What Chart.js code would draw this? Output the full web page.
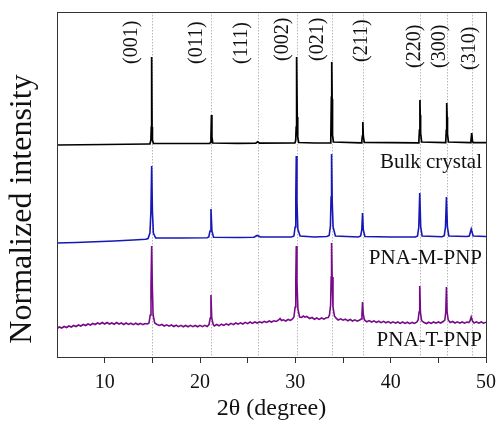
<!DOCTYPE html>
<html>
<head>
<meta charset="utf-8">
<script src="https://cdn.jsdelivr.net/npm/chart.js@4"></script>
<style>
  html, body { margin: 0; padding: 0; background: #fff; }
  #wrap { width: 499px; height: 421px; }
</style>
</head>
<body>
<div id="wrap"><canvas id="xrd"></canvas></div>
<script>
// picos e nomes das reflexoes
const peakNames = ["(001)", "(011)", "(111)", "(002)", "(021)", "(211)", "(220)", "(300)", "(310)"];
const peakPos = [14.93, 21.2, 26.05, 30.15, 33.82, 37.08, 43.07, 45.88, 48.5];
const seriesNames = ["Bulk crystal", "PNA-M-PNP", "PNA-T-PNP"];

// curvas: [2theta, intensidade deslocada]
const bulkTrace = [
  [5, 2.12], [10, 2.125], [14.6, 2.13],
  [14.75, 2.13], [14.85, 2.17], [14.89, 2.3], [14.93, 3.0], [14.97, 2.3], [15.01, 2.17], [15.11, 2.135],
  [18, 2.135], [21.02, 2.135],
  [21.08, 2.145], [21.15, 2.2], [21.2, 2.42], [21.25, 2.2], [21.34, 2.14],
  [24, 2.137], [25.85, 2.138], [26.05, 2.152], [26.25, 2.138],
  [29.95, 2.14],
  [30.04, 2.165], [30.09, 2.3], [30.12, 2.58], [30.15, 3.0], [30.2, 2.4], [30.25, 2.2], [30.35, 2.145],
  [32, 2.14], [33.65, 2.142],
  [33.72, 2.17], [33.78, 2.6], [33.82, 2.95], [33.86, 2.58], [33.9, 2.22], [34.0, 2.15],
  [36.9, 2.142],
  [36.97, 2.155], [37.03, 2.21], [37.08, 2.35], [37.13, 2.21], [37.23, 2.147],
  [42.9, 2.142],
  [42.96, 2.16], [43.02, 2.27], [43.07, 2.57], [43.1, 2.42], [43.14, 2.24], [43.25, 2.15],
  [45.72, 2.143],
  [45.78, 2.16], [45.84, 2.27], [45.88, 2.54], [45.92, 2.4], [45.96, 2.23], [46.06, 2.15],
  [48.35, 2.143],
  [48.42, 2.16], [48.5, 2.24], [48.58, 2.16], [48.66, 2.143],
  [50, 2.143]
];

const mTrace = [
  [5, 1.14], [7, 1.145], [9, 1.152], [11, 1.16], [13, 1.17], [14.3, 1.178],
  [14.55, 1.185], [14.75, 1.24], [14.85, 1.45], [14.93, 1.91], [15.01, 1.45], [15.11, 1.24], [15.35, 1.19],
  [18, 1.19], [20.75, 1.192],
  [20.92, 1.2], [21.05, 1.26], [21.15, 1.48], [21.25, 1.26], [21.42, 1.197],
  [24, 1.195], [25.65, 1.198], [26.0, 1.215], [26.35, 1.2],
  [29.6, 1.2],
  [29.85, 1.21], [29.98, 1.3], [30.05, 1.6], [30.1, 2.01], [30.17, 1.55], [30.26, 1.28], [30.5, 1.21],
  [32, 1.2], [33.3, 1.205],
  [33.55, 1.215], [33.68, 1.31], [33.75, 1.6], [33.8, 2.03], [33.87, 1.55], [33.96, 1.3], [34.2, 1.21],
  [36.6, 1.2],
  [36.85, 1.21], [36.97, 1.27], [37.05, 1.44], [37.13, 1.27], [37.3, 1.205],
  [40, 1.2], [42.6, 1.2],
  [42.82, 1.21], [42.95, 1.3], [43.05, 1.64], [43.15, 1.3], [43.3, 1.21],
  [45.4, 1.203],
  [45.62, 1.212], [45.75, 1.3], [45.85, 1.6], [45.95, 1.3], [46.1, 1.21],
  [48.0, 1.205],
  [48.25, 1.21], [48.45, 1.28], [48.65, 1.21],
  [50, 1.205]
];

const tTrace = [
  [5, 0.285], [5.25, 0.3], [5.5, 0.29], [5.75, 0.305], [6, 0.295], [6.25, 0.31], [6.5, 0.3], [6.75, 0.315],
  [7, 0.305], [7.25, 0.32], [7.5, 0.31], [7.75, 0.325], [8, 0.315], [8.25, 0.33], [8.5, 0.32], [8.75, 0.335],
  [9, 0.325], [9.25, 0.34], [9.5, 0.33], [9.75, 0.345], [10, 0.33], [10.25, 0.345], [10.5, 0.33], [10.75, 0.34],
  [11, 0.328], [11.25, 0.345], [11.5, 0.33], [11.75, 0.34], [12, 0.325], [12.25, 0.34], [12.5, 0.326], [12.75, 0.338],
  [13, 0.324], [13.25, 0.338], [13.5, 0.325], [13.75, 0.336], [14, 0.324], [14.25, 0.335], [14.5, 0.33],
  [14.65, 0.34], [14.78, 0.42], [14.86, 0.7], [14.93, 1.11], [15.0, 0.7], [15.08, 0.42], [15.25, 0.34],
  [15.5, 0.325], [15.75, 0.315], [16, 0.325], [16.25, 0.31], [16.5, 0.322], [16.75, 0.308], [17, 0.32], [17.25, 0.305],
  [17.5, 0.318], [17.75, 0.304], [18, 0.316], [18.25, 0.302], [18.5, 0.315], [18.75, 0.302], [19, 0.316], [19.25, 0.303],
  [19.5, 0.315], [19.75, 0.302], [20, 0.316], [20.25, 0.303], [20.5, 0.317], [20.75, 0.305],
  [20.95, 0.325], [21.07, 0.39], [21.15, 0.62], [21.23, 0.39], [21.38, 0.325],
  [21.5, 0.31], [21.75, 0.325], [22, 0.312], [22.25, 0.328], [22.5, 0.316], [22.75, 0.332], [23, 0.32], [23.25, 0.336],
  [23.5, 0.324], [23.75, 0.34], [24, 0.328], [24.25, 0.342], [24.5, 0.33], [24.75, 0.346], [25, 0.334], [25.25, 0.35],
  [25.5, 0.336], [25.75, 0.35], [26, 0.34], [26.25, 0.352], [26.5, 0.342], [26.75, 0.356], [27, 0.346], [27.25, 0.36],
  [27.5, 0.35], [27.75, 0.362], [28, 0.355], [28.25, 0.37], [28.4, 0.385], [28.55, 0.365], [28.75, 0.372], [29, 0.36],
  [29.25, 0.376], [29.5, 0.366], [29.7, 0.38],
  [29.85, 0.4], [29.98, 0.5], [30.05, 0.78], [30.1, 1.11], [30.17, 0.75], [30.27, 0.48], [30.45, 0.4],
  [30.65, 0.395], [30.85, 0.41], [31.0, 0.398], [31.2, 0.405], [31.5, 0.385], [31.75, 0.395], [32, 0.378], [32.25, 0.39],
  [32.5, 0.376], [32.75, 0.39], [33, 0.378], [33.25, 0.392], [33.45, 0.395],
  [33.58, 0.42], [33.7, 0.52], [33.76, 0.8], [33.8, 1.14], [33.86, 0.8], [33.95, 0.5], [34.1, 0.41],
  [34.3, 0.385], [34.5, 0.37], [34.75, 0.382], [35, 0.368], [35.25, 0.378], [35.5, 0.362], [35.75, 0.375], [36, 0.36],
  [36.25, 0.372], [36.5, 0.358], [36.75, 0.37],
  [36.9, 0.38], [36.99, 0.43], [37.05, 0.55], [37.12, 0.43], [37.25, 0.37],
  [37.5, 0.352], [37.75, 0.364], [38, 0.35], [38.25, 0.362], [38.5, 0.346], [38.75, 0.358], [39, 0.344], [39.25, 0.356],
  [39.5, 0.342], [39.75, 0.354], [40, 0.34], [40.25, 0.352], [40.5, 0.338], [40.75, 0.35], [41, 0.336], [41.25, 0.35],
  [41.5, 0.336], [41.75, 0.348], [42, 0.334], [42.25, 0.346], [42.5, 0.336], [42.75, 0.35],
  [42.88, 0.37], [42.98, 0.45], [43.05, 0.71], [43.12, 0.45], [43.24, 0.365],
  [43.5, 0.345], [43.75, 0.335], [44, 0.348], [44.25, 0.336], [44.5, 0.35], [44.75, 0.338], [45, 0.35], [45.25, 0.34],
  [45.5, 0.355],
  [45.68, 0.37], [45.78, 0.45], [45.85, 0.7], [45.92, 0.45], [46.04, 0.37],
  [46.25, 0.345], [46.5, 0.355], [46.75, 0.34], [47, 0.352], [47.25, 0.338], [47.5, 0.35], [47.75, 0.338], [48, 0.35],
  [48.2, 0.345],
  [48.32, 0.36], [48.45, 0.4], [48.58, 0.36],
  [48.75, 0.34], [49, 0.352], [49.25, 0.338], [49.5, 0.35], [49.75, 0.338], [50, 0.348]
];

const serif = "'Liberation Serif', 'Times New Roman', serif";

// deslocamento dos rotulos dos picos em relacao a linha pontilhada (px)
const labelShift = [-20, -15, -16, -14, -14, -1, -5, -7, -2];
const labelStartY = [64, 64, 64, 61, 61, 62, 68, 68, 70];
const seriesLabelY = [162, 258, 340];

// linhas pontilhadas, moldura e textos
const decorPlugin = {
  id: "decor",
  beforeDatasetsDraw(chart) {
    const ctx = chart.ctx;
    const area = chart.chartArea;
    const xs = chart.scales.x;
    ctx.save();
    ctx.strokeStyle = "#b8b8b8";
    ctx.lineWidth = 1;
    ctx.setLineDash([1.5, 1.5]);
    peakPos.forEach(p => {
      const px = Math.round(xs.getPixelForValue(p)) + 0.5;
      ctx.beginPath();
      ctx.moveTo(px, area.top);
      ctx.lineTo(px, area.bottom);
      ctx.stroke();
    });
    ctx.restore();
  },
  afterDatasetsDraw(chart) {
    const ctx = chart.ctx;
    const area = chart.chartArea;
    const xs = chart.scales.x;
    ctx.save();
    ctx.strokeStyle = "#333";
    ctx.lineWidth = 1;
    ctx.strokeRect(area.left + 0.5, area.top + 0.5, area.right - area.left, area.bottom - area.top);

    ctx.fillStyle = "#111";
    ctx.font = "20px " + serif;
    ctx.textAlign = "left";
    ctx.textBaseline = "middle";
    peakNames.forEach((name, i) => {
      const px = xs.getPixelForValue(peakPos[i]) + labelShift[i];
      ctx.save();
      ctx.translate(px, labelStartY[i]);
      ctx.rotate(-Math.PI / 2);
      ctx.fillText(name, 0, 0);
      ctx.restore();
    });

    ctx.font = "21px " + serif;
    ctx.textAlign = "right";
    seriesNames.forEach((name, i) => {
      ctx.fillText(name, area.right - 4, seriesLabelY[i]);
    });

    // titulo do eixo y
    ctx.font = "32px " + serif;
    ctx.textAlign = "center";
    ctx.save();
    ctx.translate(23, 209);
    ctx.rotate(-Math.PI / 2);
    ctx.fillText("Normalized intensity", 0, 0);
    ctx.restore();
    ctx.restore();
  }
};

new Chart(document.getElementById("xrd"), {
  type: "line",
  data: {
    datasets: [
      { label: seriesNames[0], data: bulkTrace, borderColor: "#000000", borderWidth: 1.7 },
      { label: seriesNames[1], data: mTrace, borderColor: "#1717b8", borderWidth: 1.6 },
      { label: seriesNames[2], data: tTrace, borderColor: "#760a88", borderWidth: 1.6 }
    ]
  },
  options: {
    responsive: true,
    maintainAspectRatio: false,
    animation: false,
    events: [],
    layout: { padding: { top: 12, right: 13, left: 0, bottom: 0 } },
    elements: { point: { radius: 0 }, line: { tension: 0 } },
    plugins: { legend: { display: false }, tooltip: { enabled: false } },
    scales: {
      x: {
        type: "linear",
        min: 5,
        max: 50,
        afterFit: s => { s.height = 64; s.paddingLeft = 0; s.paddingRight = 0; },
        border: { color: "#333", width: 1 },
        grid: {
          drawOnChartArea: false,
          tickLength: 6,
          tickColor: c => (c.tick && c.tick.value === 5 ? "rgba(0,0,0,0)" : "#333")
        },
        ticks: {
          stepSize: 5,
          padding: 8,
          color: "#111",
          font: { family: serif, size: 20 },
          maxRotation: 0,
          autoSkip: false,
          callback: v => (v % 10 === 0 ? String(v) : "")
        },
        title: {
          display: true,
          text: "2θ (degree)",
          color: "#111",
          font: { family: serif, size: 24, lineHeight: 1 },
          padding: { top: 0, bottom: 0 }
        }
      },
      y: {
        min: 0,
        max: 3.45,
        afterFit: s => { s.width = 57; },
        border: { color: "#333", width: 1 },
        grid: { drawOnChartArea: false, drawTicks: false },
        ticks: { display: false }
      }
    }
  },
  plugins: [decorPlugin]
});
</script>
</body>
</html>
